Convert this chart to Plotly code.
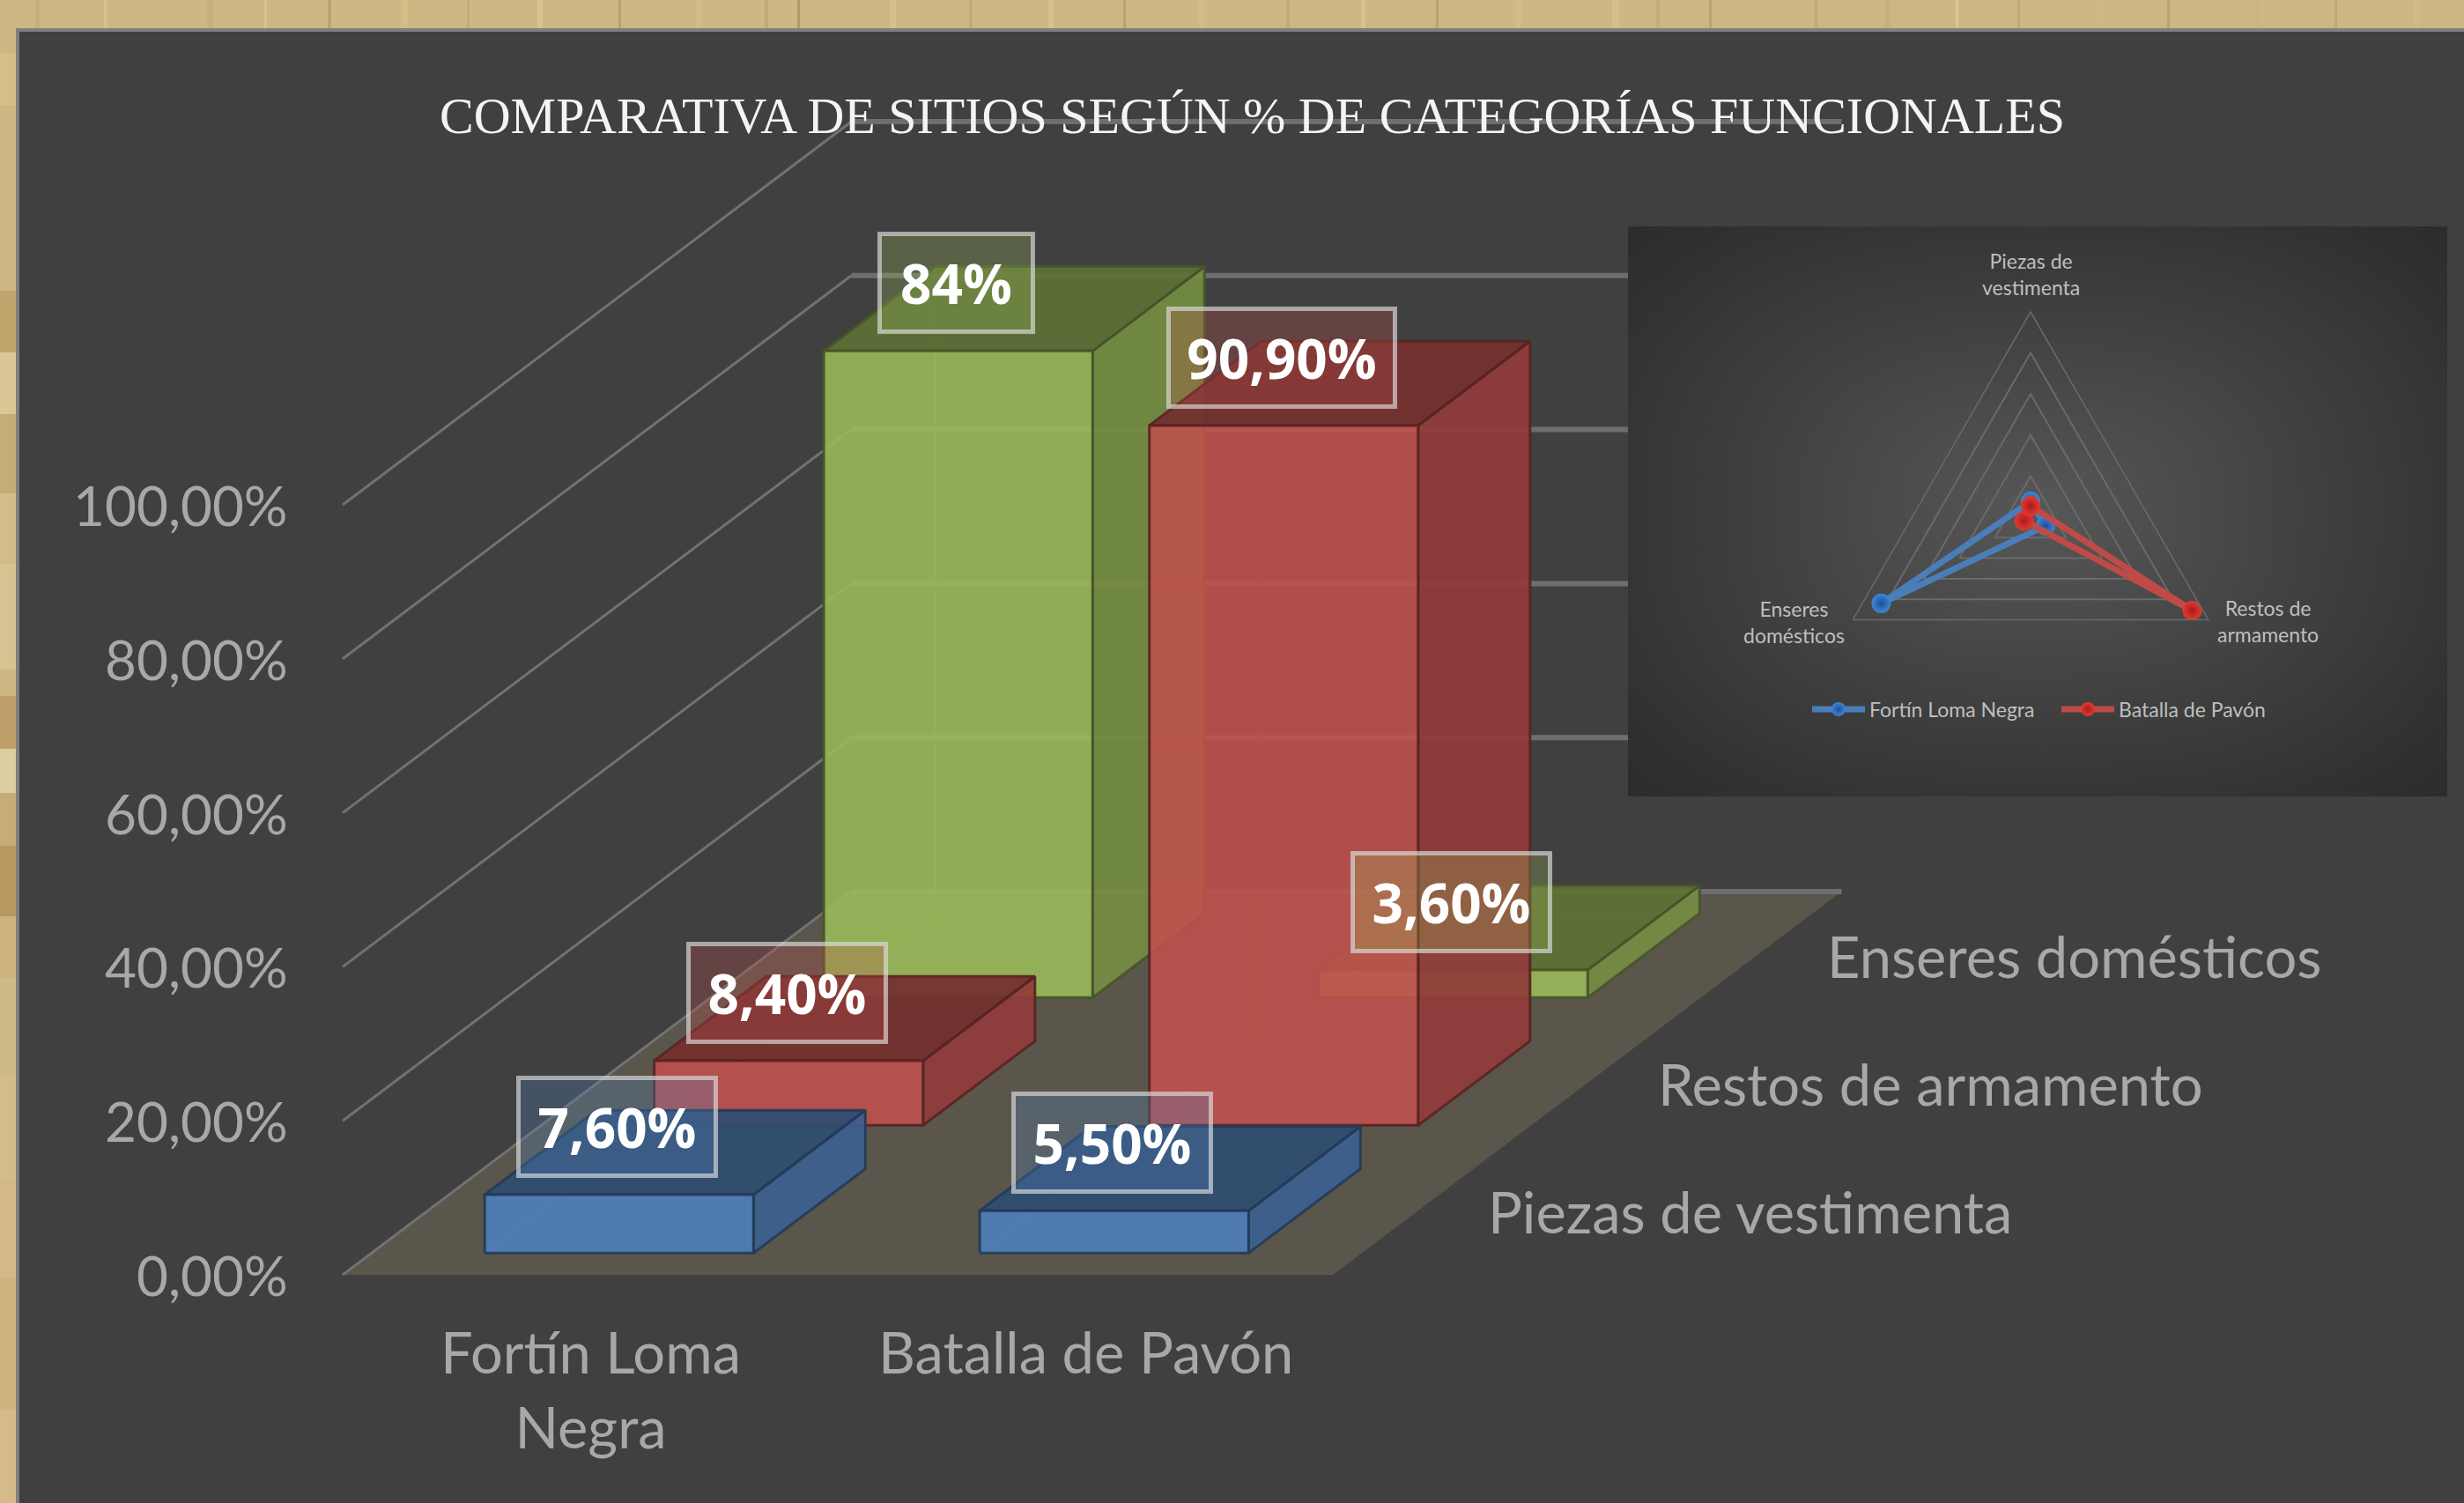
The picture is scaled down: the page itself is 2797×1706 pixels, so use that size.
import math
import plotly.graph_objects as go

# ---- data ----
title_text = "COMPARATIVA DE SITIOS SEGÚN % DE CATEGORÍAS FUNCIONALES"
sites = ["Fortín Loma<br>Negra", "Batalla de Pavón"]
site_names = ["Fortín Loma Negra", "Batalla de Pavón"]
categories = ["Piezas de vestimenta", "Restos de armamento", "Enseres domésticos"]
radar_labels = ["Piezas de<br>vestimenta", "Restos de<br>armamento", "Enseres<br>domésticos"]
fortin_values = [7.6, 8.4, 84.0]
pavon_values = [5.5, 90.9, 3.6]
fortin_labels = ["7,60%", "8,40%", "84%"]
pavon_labels = ["5,50%", "90,90%", "3,60%"]
value_ticks = [0, 20, 40, 60, 80, 100]
value_tick_labels = ["0,00%", "20,00%", "40,00%", "60,00%", "80,00%", "100,00%"]

# ---- style / oblique projection ----
W, H = 2797, 1706
X0, Y0, CW, DX, DY, VP = 389, 1447, 562, 192.5, -145, 8.74
BAR_C = (0.2286, 0.7714)
BAR_D = (0.17, 0.83)
SERIES_RGB = [(79, 129, 189), (192, 80, 77), (155, 187, 89)]
LABEL_W = {5: 227, 6: 260, 3: 177}
INSET = (1848, 257, 2778, 904)
PANEL = "#404040"
TXT = "#A8A8A8"
SANS = "Lato"


def project(c, d, v):
    return X0 + c * CW + d * DX, Y0 + d * DY - v * VP


def rgba(rgb, f=1.0, a=1.0):
    return "rgba(%d,%d,%d,%.3f)" % (rgb[0] * f, rgb[1] * f, rgb[2] * f, a)


fig = go.Figure()


def poly(points, fill, line, lw=3):
    fig.add_trace(go.Scatter(
        x=[p[0] for p in points] + [points[0][0]],
        y=[p[1] for p in points] + [points[0][1]],
        mode="lines", fill="toself", fillcolor=fill,
        line=dict(color=line, width=lw), hoverinfo="skip", showlegend=False,
        xaxis="x", yaxis="y"))


# floor
poly([project(0, 0, 0), project(2, 0, 0), project(2, 3, 0), project(0, 3, 0)], "#5A564C", "rgba(0,0,0,0)", 0)

# grid lines on the side wall and back wall
gx, gy, bx, by = [], [], [], []
for v in value_ticks:
    a = project(0, 0, v)
    b = project(0, 3, v)
    e = project(2, 3, v)
    gx += [a[0], b[0], None]
    gy += [a[1], b[1], None]
    end = e[0]
    if INSET[1] < e[1] < INSET[3]:
        end = min(end, INSET[0])
    bx += [b[0], end, None]
    by += [b[1], e[1], None]
fig.add_trace(go.Scatter(x=gx, y=gy, mode="lines", line=dict(color="#727272", width=3),
                         hoverinfo="skip", showlegend=False))
fig.add_trace(go.Scatter(x=bx, y=by, mode="lines", line=dict(color="#6E6E6E", width=6),
                         hoverinfo="skip", showlegend=False))


def bar(c, s, v, rgb):
    c0, c1 = c + BAR_C[0], c + BAR_C[1]
    d0, d1 = s + BAR_D[0], s + BAR_D[1]
    edge = rgba(rgb, 0.45, 0.9)
    faint = rgba(rgb, 1.0, 0.10)
    ghost = rgba(rgb, 1.0, 0.18)
    # hidden faces, seen through the glass
    poly([project(c0, d0, 0), project(c1, d0, 0), project(c1, d1, 0), project(c0, d1, 0)], faint, ghost, 2)
    poly([project(c0, d1, 0), project(c1, d1, 0), project(c1, d1, v), project(c0, d1, v)], faint, ghost, 2)
    poly([project(c0, d0, 0), project(c0, d1, 0), project(c0, d1, v), project(c0, d0, v)], faint, ghost, 2)
    # visible faces
    poly([project(c1, d0, 0), project(c1, d1, 0), project(c1, d1, v), project(c1, d0, v)],
         rgba(rgb, 0.75, 0.92), edge)
    poly([project(c0, d0, v), project(c1, d0, v), project(c1, d1, v), project(c0, d1, v)],
         rgba(rgb, 0.60, 0.92), edge)
    poly([project(c0, d0, 0), project(c1, d0, 0), project(c1, d0, v), project(c0, d0, v)],
         rgba(rgb, 1.0, 0.87), edge)


columns = [fortin_values, pavon_values]
for s in (2, 1, 0):
    for c in (0, 1):
        bar(c, s, columns[c][s], SERIES_RGB[s])

# ---- radar inset ----
blue, red = "#4A7EBB", "#BE4B48"
for name, vals, col, dark, light in (
        (site_names[0], fortin_values, blue, "#1C4F96", "#3F86D6"),
        (site_names[1], pavon_values, red, "#A81C1C", "#E23A30")):
    fig.add_trace(go.Scatterpolar(
        r=vals + vals[:1], theta=radar_labels + radar_labels[:1],
        mode="lines+markers", name=name, subplot="polar",
        line=dict(color=col, width=7),
        marker=dict(size=22, color=light, gradient=dict(type="radial", color=dark), line=dict(width=0)),
        hoverinfo="skip"))

cx, cy, R = 2305, 587, 233
polar = dict(
    domain=dict(x=[(cx - R) / W, (cx + R) / W], y=[1 - (cy + R) / H, 1 - (cy - R) / H]),
    bgcolor="rgba(0,0,0,0)", gridshape="linear",
    radialaxis=dict(range=[0, 100], tick0=0, dtick=20, showticklabels=False, ticks="",
                    showline=False, gridcolor="#6A6A6A", gridwidth=1.5),
    angularaxis=dict(direction="clockwise", rotation=90, showgrid=False, ticks="",
                     showline=True, linecolor="#6A6A6A", linewidth=1.5, type="category",
                     categoryorder="array", categoryarray=radar_labels, showticklabels=False),
)

# ---- decoration shapes ----
shapes = []


def rect(x0, y0, x1, y1, color, opacity=1.0):
    shapes.append(dict(type="rect", xref="x", yref="y", x0=x0, y0=y0, x1=x1, y1=y1, opacity=opacity,
                       fillcolor=color, line=dict(width=0), layer="below"))


# wood streaks along the top edge
top_streaks = [(40, 5, "#BFA46C"), (118, 4, "#E3D09C"), (235, 7, "#C2A971"), (300, 3, "#E8D8A6"),
               (372, 4, "#A98F5A"), (455, 8, "#DCC78F"), (530, 3, "#B89E66"), (610, 6, "#E5D39E"),
               (702, 3, "#A48A55"), (790, 7, "#D9C48C"), (868, 4, "#B79C63"), (905, 3, "#8F7746"),
               (1010, 7, "#DFCB94"), (1100, 4, "#B59B64"), (1190, 6, "#E2CF9B"), (1275, 3, "#A68C58"),
               (1360, 8, "#D8C38B"), (1460, 4, "#BBA26B"), (1545, 5, "#E4D29E"), (1630, 3, "#A78D59"),
               (1720, 7, "#DAC68E"), (1830, 8, "#DEC98F"), (1880, 4, "#BDA36B"), (1940, 3, "#A98F5B"),
               (2060, 3, "#B59B64"), (2140, 6, "#C2AA74"), (2220, 3, "#EADCAC"), (2290, 3, "#B09660"),
               (2380, 6, "#D3BE88"), (2460, 3, "#A98F5B"), (2560, 6, "#C9B27B"), (2650, 3, "#B69C65"),
               (2740, 6, "#D8C48E")]
for x, w, col in top_streaks:
    rect(x, 0, x + w, 33, col, 0.45)
left_patches = [(60, 120, "#D9C48E"), (330, 400, "#B8985E"), (400, 470, "#E3D2A2"), (470, 560, "#BFA772"),
                (560, 640, "#D5C08A"), (640, 760, "#DCCB9B"), (790, 850, "#B58E5A"), (850, 900, "#E8DDB6"),
                (900, 960, "#C4A56E"), (960, 1040, "#A98349"), (1040, 1110, "#CDB27A"), (1110, 1220, "#CFBD86"),
                (1220, 1340, "#D6C08C"), (1340, 1450, "#D9B98A"), (1450, 1600, "#CFB47E"), (1600, 1706, "#D8BE8E")]
for y0, y1, col in left_patches:
    rect(0, y0, 18, y1, col, 0.6)

# panel with its grey edge
rect(18, 32, W, H, "#808080")
rect(22, 36, W, H, PANEL)

# inset background: soft radial shading
L, T, Rt, B = INSET
rect(L, T, Rt, B, "#2A2A2A")
ccx, ccy = 2313, 580
N = 46
for i in range(N):
    t = 1.38 - 1.33 * i / (N - 1)
    g = 0x58 - (0x58 - 0x36) * min(t, 1.0) - (0x36 - 0x2B) * max(t - 1.0, 0) / 0.38
    col = "#%02x%02x%02x" % (int(g), int(g), int(g))
    pts = []
    for k in range(64):
        a = 2 * math.pi * k / 64
        ca, sa = math.cos(a), math.sin(a)
        px = ccx + t * 465 * math.copysign(abs(ca) ** (2 / 2.6), ca)
        py = ccy + t * 323 * math.copysign(abs(sa) ** (2 / 2.6), sa)
        pts.append((min(max(px, L), Rt), min(max(py, T), B)))
    path = "M" + "L".join("%.1f,%.1f" % p for p in pts) + "Z"
    shapes.append(dict(type="path", xref="x", yref="y", path=path, fillcolor=col,
                       line=dict(width=0), layer="below"))

# ---- text ----
ann = []


def text(x, y, s, size, color=TXT, anchor="center", family=SANS, vanchor="middle"):
    ann.append(dict(x=x, y=y, xref="x", yref="y", text=s, showarrow=False, xanchor=anchor, yanchor=vanchor,
                    font=dict(family=family, size=size, color=color), align="center"))


text(1421, 131, title_text, 58, "#F4F4F4", family="Liberation Serif")
for v, lab in zip(value_ticks, value_tick_labels):
    px, py = project(0, 0, v)
    text(px - 60, py, lab, 62, anchor="right")
for c, lab in enumerate(sites):
    px, py = project(c + 0.5, 0, 0)
    text(px, py + 46, lab, 65, vanchor="top")
for s, lab in enumerate(categories):
    px, py = project(2, s + 0.5, 0)
    text(px + 78, py, lab, 65, anchor="left")

# radar axis labels, placed around the triangle's corners
radar_offsets = [(0, -276), (269, 118), (-269, 119)]
for lab, (ox, oy) in zip(radar_labels, radar_offsets):
    text(cx + ox, cy + oy, lab, 23, "#BFBFBF")

for c, labs in enumerate((fortin_labels, pavon_labels)):
    for s, lab in enumerate(labs):
        px, py = project(c + 0.5, s + BAR_D[0], columns[c][s])
        ann.append(dict(
            x=px - 2, y=py, xref="x", yref="y", yshift=77, text="<b>%s</b>" % lab, showarrow=False,
            xanchor="center", yanchor="middle", align="center", valign="middle",
            width=LABEL_W[len(lab)] - 8, height=106, borderpad=0, borderwidth=5,
            bordercolor="rgba(222,222,222,0.66)", bgcolor=rgba(SERIES_RGB[s], 1.0, 0.28),
            font=dict(family="Open Sans", size=62, color="#FFFFFF")))

fig.update_layout(
    width=W, height=H, margin=dict(l=0, r=0, t=0, b=0), autosize=False,
    paper_bgcolor="#CDB783", plot_bgcolor="rgba(0,0,0,0)",
    xaxis=dict(range=[0, W], visible=False, fixedrange=True),
    yaxis=dict(range=[H, 0], visible=False, fixedrange=True),
    polar=polar, shapes=shapes, annotations=ann,
    legend=dict(orientation="h", x=2335 / W, y=1 - 805 / H, xanchor="center", yanchor="middle",
                bgcolor="rgba(0,0,0,0)", font=dict(family=SANS, size=23, color="#BFBFBF"), itemwidth=60,
                entrywidth=208, entrywidthmode="pixels"),
    hovermode=False,
)

fig.write_html("out.html", config=dict(displayModeBar=False),
               post_script="document.body.style.margin='0';document.body.style.overflow='hidden';")
